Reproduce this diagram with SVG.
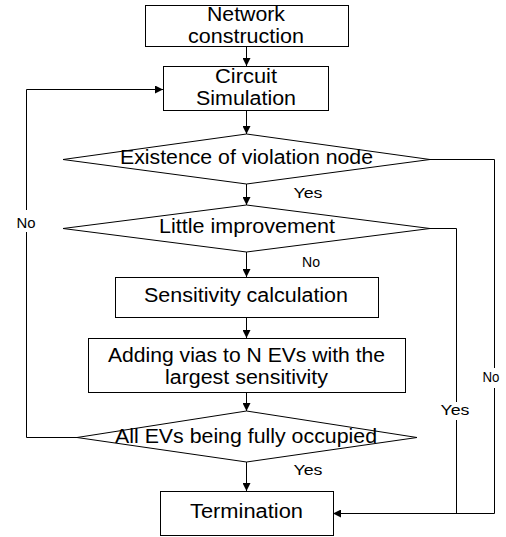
<svg xmlns="http://www.w3.org/2000/svg" width="506" height="537" viewBox="0 0 506 537">
<style>
.box{fill:#fff;stroke:#000;stroke-width:1}
.t{font-family:"Liberation Sans",Arial,sans-serif;font-size:20px;fill:#000;text-anchor:middle}
.s{font-family:"Liberation Sans",Arial,sans-serif;font-size:14px;fill:#000;text-anchor:middle}
.c{fill:none;stroke:#000;stroke-width:1}
</style>
<defs>
<marker id="ah" markerUnits="userSpaceOnUse" markerWidth="8" markerHeight="8" refX="8" refY="4" orient="auto">
<path d="M0,0 L8,4 L0,8 z" fill="#000"/>
</marker>
</defs>
<g id="connectors">
<line class="c" x1="246.5" y1="46" x2="246.5" y2="66" marker-end="url(#ah)"/>
<line class="c" x1="246.5" y1="110" x2="246.5" y2="134" marker-end="url(#ah)"/>
<line class="c" x1="246.5" y1="184" x2="246.5" y2="205" marker-end="url(#ah)"/>
<line class="c" x1="246.5" y1="252" x2="246.5" y2="277" marker-end="url(#ah)"/>
<line class="c" x1="246.5" y1="317" x2="246.5" y2="338" marker-end="url(#ah)"/>
<line class="c" x1="246.5" y1="392" x2="246.5" y2="411" marker-end="url(#ah)"/>
<line class="c" x1="246.5" y1="462" x2="246.5" y2="491" marker-end="url(#ah)"/>
<polyline class="c" points="77,437.5 26.5,437.5 26.5,232"/>
<polyline class="c" points="26.5,210 26.5,89.5 163,89.5" marker-end="url(#ah)"/>
<polyline class="c" points="430,159.5 494.5,159.5 494.5,368"/>
<line class="c" x1="494.5" y1="388" x2="494.5" y2="513.5"/>
<polyline class="c" points="430,228.5 456.5,228.5 456.5,402"/>
<line class="c" x1="456.5" y1="420" x2="456.5" y2="513.5"/>
<line class="c" x1="494.5" y1="513.5" x2="333" y2="513.5" marker-end="url(#ah)"/>
<text class="s" x="308" y="198" textLength="29" lengthAdjust="spacingAndGlyphs">Yes</text>
<text class="s" x="311" y="267" textLength="18" lengthAdjust="spacingAndGlyphs">No</text>
<text class="s" x="308" y="475" textLength="29" lengthAdjust="spacingAndGlyphs">Yes</text>
<text class="s" x="26" y="228" textLength="19" lengthAdjust="spacingAndGlyphs">No</text>
<text class="s" x="491" y="382" textLength="17" lengthAdjust="spacingAndGlyphs">No</text>
<text class="s" x="455" y="415" textLength="29" lengthAdjust="spacingAndGlyphs">Yes</text>
</g>
<g id="network-construction">
<rect class="box" x="145.5" y="5.5" width="203" height="41"/>
<text class="t" x="246" y="21" textLength="78" lengthAdjust="spacingAndGlyphs">Network</text>
<text class="t" x="246" y="43" textLength="116" lengthAdjust="spacingAndGlyphs">construction</text>
</g>
<g id="circuit-simulation">
<rect class="box" x="163.5" y="66.5" width="165" height="44"/>
<text class="t" x="246" y="83" textLength="62" lengthAdjust="spacingAndGlyphs">Circuit</text>
<text class="t" x="246" y="105" textLength="100" lengthAdjust="spacingAndGlyphs">Simulation</text>
</g>
<g id="violation-check">
<polygon class="box" points="246.5,134 430,159.5 246.5,184 63,159.5"/>
<text class="t" x="246.5" y="164" textLength="253" lengthAdjust="spacingAndGlyphs">Existence of violation node</text>
</g>
<g id="little-improvement">
<polygon class="box" points="246.5,205 430,228.5 246.5,252 63,228.5"/>
<text class="t" x="247" y="233" textLength="176" lengthAdjust="spacingAndGlyphs">Little improvement</text>
</g>
<g id="sensitivity-calculation">
<rect class="box" x="115.5" y="277.5" width="263" height="40"/>
<text class="t" x="246" y="302" textLength="204" lengthAdjust="spacingAndGlyphs">Sensitivity calculation</text>
</g>
<g id="adding-vias">
<rect class="box" x="88.5" y="338.5" width="317" height="54"/>
<text class="t" x="246.5" y="362" textLength="277" lengthAdjust="spacingAndGlyphs">Adding vias to N EVs with the</text>
<text class="t" x="246.5" y="384" textLength="163" lengthAdjust="spacingAndGlyphs">largest sensitivity</text>
</g>
<g id="all-evs-occupied">
<polygon class="box" points="246.5,411 417,437.5 246.5,462 77,437.5"/>
<text class="t" x="246" y="443" textLength="262" lengthAdjust="spacingAndGlyphs">All EVs being fully occupied</text>
</g>
<g id="termination">
<rect class="box" x="160.5" y="491.5" width="173" height="44"/>
<text class="t" x="246.5" y="518" textLength="113" lengthAdjust="spacingAndGlyphs">Termination</text>
</g>
</svg>
